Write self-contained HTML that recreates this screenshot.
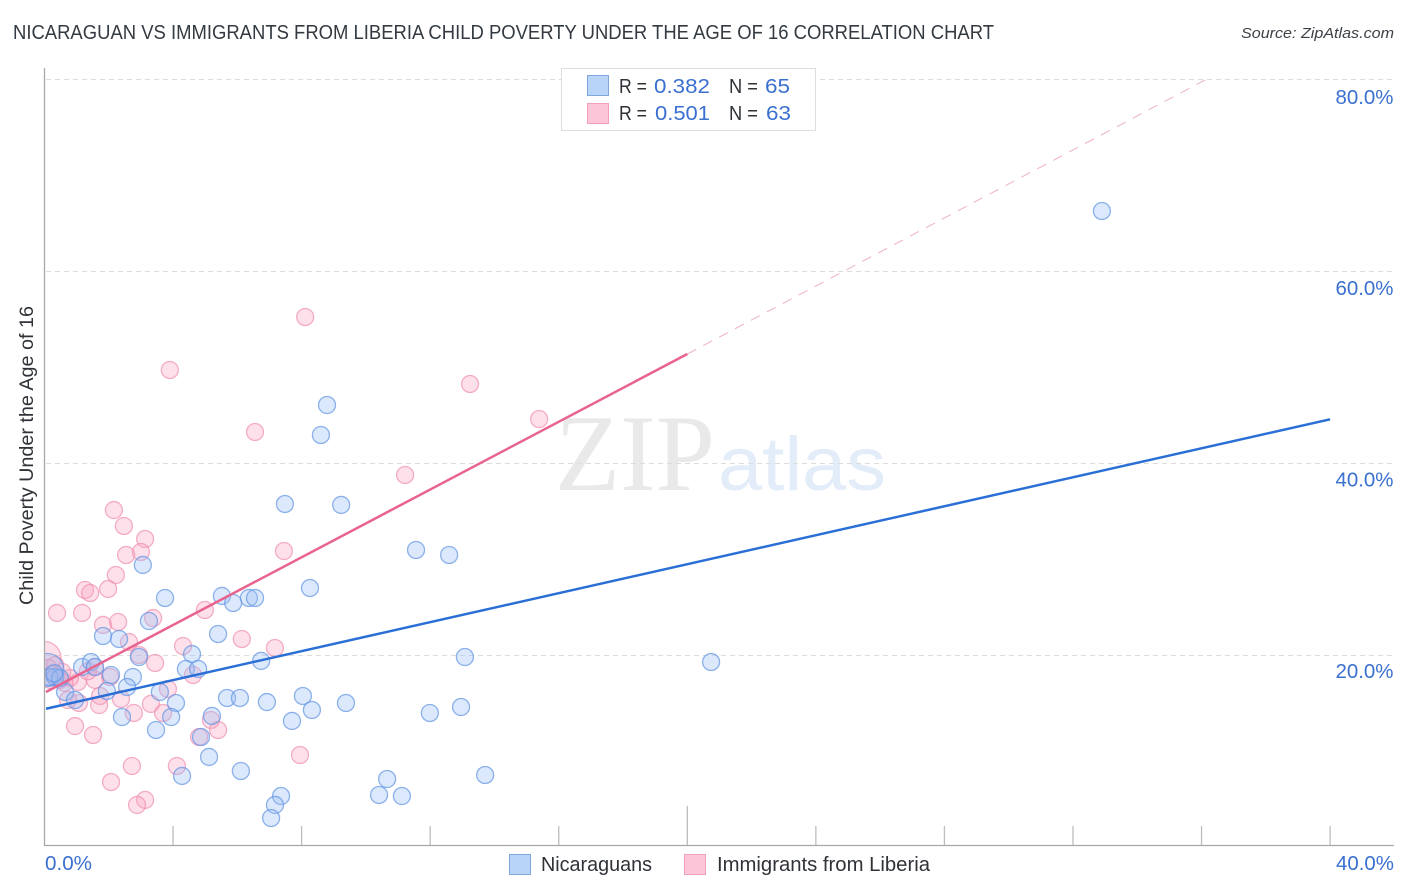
<!DOCTYPE html>
<html lang="en">
<head>
<meta charset="utf-8">
<title>Nicaraguan vs Immigrants from Liberia Child Poverty Correlation Chart</title>
<style>
html,body{margin:0;padding:0;background:#fff;}
svg{display:block;font-family:"Liberation Sans",sans-serif;}
</style>
</head>
<body>
<svg id="chart" width="1406" height="892" viewBox="0 0 1406 892" xmlns="http://www.w3.org/2000/svg">
  <rect width="1406" height="892" fill="#ffffff"/>
  <text x="13" y="39" font-size="20" fill="#333a42" textLength="981" lengthAdjust="spacingAndGlyphs">NICARAGUAN VS IMMIGRANTS FROM LIBERIA CHILD POVERTY UNDER THE AGE OF 16 CORRELATION CHART</text>
  <text x="1394" y="38" font-size="15" font-style="italic" fill="#3c4248" text-anchor="end" textLength="153" lengthAdjust="spacingAndGlyphs">Source: ZipAtlas.com</text>

  <g>
    <text x="555" y="490" font-family="'Liberation Serif',serif" font-size="109" fill="#e9e9ea" textLength="160" lengthAdjust="spacingAndGlyphs">ZIP</text>
    <text x="718" y="490" font-size="76" fill="#e3ecf9" textLength="168" lengthAdjust="spacingAndGlyphs">atlas</text>
  </g>

  <g id="grid"></g>
  <svg x="45" y="60" width="1350" height="786" viewBox="45 60 1350 786" overflow="hidden">
    <g id="marks-pink"></g>
    <g id="marks-blue"></g>
  </svg>
  <rect x="10" y="625" width="35" height="80" fill="#ffffff"/>
  <g id="axes"></g>
  <g id="trends"></g>

  <g>
    <rect x="561.5" y="68.5" width="254" height="62" fill="#ffffff" stroke="#dddddd"/>
    <rect x="587.5" y="75.5" width="21" height="20" fill="#b8d4f8" stroke="#7fa8dc"/>
    <rect x="587.5" y="103.5" width="21" height="20" fill="#fdc5d8" stroke="#f0a0bb"/>
    <g font-size="20">
      <text x="619" y="93" fill="#2f3338" textLength="28" lengthAdjust="spacingAndGlyphs">R =</text>
      <text x="654" y="93" fill="#3a70d0" textLength="56" lengthAdjust="spacingAndGlyphs">0.382</text>
      <text x="729" y="93" fill="#2f3338" textLength="29" lengthAdjust="spacingAndGlyphs">N =</text>
      <text x="765" y="93" fill="#3a70d0" textLength="25" lengthAdjust="spacingAndGlyphs">65</text>
      <text x="619" y="120" fill="#2f3338" textLength="28" lengthAdjust="spacingAndGlyphs">R =</text>
      <text x="655" y="120" fill="#3a70d0" textLength="55" lengthAdjust="spacingAndGlyphs">0.501</text>
      <text x="729" y="120" fill="#2f3338" textLength="29" lengthAdjust="spacingAndGlyphs">N =</text>
      <text x="766" y="120" fill="#3a70d0" textLength="25" lengthAdjust="spacingAndGlyphs">63</text>
    </g>
  </g>

  <text transform="translate(33,605) rotate(-90)" font-size="19" fill="#2f3338" textLength="299" lengthAdjust="spacingAndGlyphs">Child Poverty Under the Age of 16</text>

  <g>
    <rect x="509.5" y="854.5" width="21" height="20" fill="#b8d4f8" stroke="#7fa8dc"/>
    <text x="541" y="871" font-size="20" fill="#2f3338" textLength="111" lengthAdjust="spacingAndGlyphs">Nicaraguans</text>
    <rect x="684.5" y="854.5" width="21" height="20" fill="#fdc5d8" stroke="#f0a0bb"/>
    <text x="717" y="871" font-size="20" fill="#2f3338" textLength="213" lengthAdjust="spacingAndGlyphs">Immigrants from Liberia</text>
  </g>
</svg>
<script>
const yTickValues = [20, 40, 60, 80];
const xTickValues = [4, 8, 12, 16, 20, 24, 28, 32, 36, 40];
const xEdgeLabels = [0, 40];

const blueX = [32.90,8.79,8.60,7.48,9.23,11.56,12.59,3.06,8.26,3.75,5.52,5.87,6.36,6.55,3.25,5.40,1.82,2.32,4.59,2.94,13.08,20.74,6.74,1.17,1.45,1.57,4.40,4.78,2.07,2.75,2.57,1.94,3.59,5.68,6.08,8.04,6.92,9.38,4.09,8.32,7.70,11.99,12.96,2.41,3.94,5.21,3.47,4.87,5.12,6.11,4.28,13.71,10.66,10.41,11.12,7.36,7.17,7.05,0.09,0.33,0.64,0.95,0.15,0.48,0.30];
const blueY = [66.25,46.04,42.92,35.73,35.63,30.94,30.42,29.38,26.98,25.94,26.15,25.42,25.94,25.94,23.54,22.19,21.98,21.67,20.10,19.79,19.79,19.27,19.38,18.75,19.27,18.75,18.54,18.54,17.92,17.71,16.67,16.25,16.15,15.52,15.52,15.73,15.10,15.00,15.00,14.27,13.13,13.96,14.58,13.54,13.54,13.65,12.19,11.46,9.38,7.92,7.40,7.50,7.08,5.42,5.31,5.31,4.38,3.02,18.44,17.71,16.15,15.31,17.71,17.60,18.10];

const pinkX = [8.11,3.90,13.24,15.39,6.55,11.22,2.16,2.47,3.13,3.00,2.54,7.45,2.22,1.26,1.42,1.98,0.39,1.17,1.82,2.29,3.38,4.99,2.63,2.94,3.44,4.31,6.14,7.17,4.62,1.04,1.57,1.57,2.04,3.84,1.73,2.38,1.70,3.31,3.69,2.78,1.07,0.73,0.95,1.51,5.18,5.40,4.81,7.95,4.12,2.72,2.07,3.13,2.88,0.00,0.12,0.33,0.17,0.48,0.79,0.55,0.25,0.62,1.35];
const pinkY = [55.21,49.69,48.23,44.58,43.23,38.75,35.10,33.44,32.08,30.73,30.42,30.83,28.33,26.77,26.46,26.88,24.38,24.38,23.13,23.44,23.85,24.69,21.35,20.00,19.17,20.94,21.67,20.73,17.92,17.19,17.40,18.75,17.71,16.46,15.73,15.42,14.79,14.90,13.96,13.96,15.00,15.31,12.60,11.67,13.23,12.19,11.46,9.58,8.44,8.44,6.77,4.90,4.38,19.69,18.65,18.96,17.40,17.40,17.60,18.23,18.00,17.10,18.30];

const blueTrendX = [0, 40];
const blueTrendY = [14.4, 44.55];
const pinkTrendX = [0, 20];
const pinkTrendY = [16.15, 51.35];
const pinkDashX = [20, 36.17];
const pinkDashY = [51.35, 80];

const NS = 'http://www.w3.org/2000/svg';
function xScale(v) { return 44.5 + v * 32.14; }
function yScale(v) { return 847 - v * 9.6; }
function yLabelScale(v) { return 678 - (v - 20) * 9.57; }
function pct(v) { return v.toFixed(1) + '%'; }
function make(tag, attrs, parent) {
  const el = document.createElementNS(NS, tag);
  for (const k in attrs) el.setAttribute(k, attrs[k]);
  parent.appendChild(el);
  return el;
}

const gridG = document.getElementById('grid');
const axesG = document.getElementById('axes');
const trendsG = document.getElementById('trends');

yTickValues.forEach(function (v) {
  const line = make('line', {x1: 46, x2: 1393, y1: yScale(v) + 0.5, y2: yScale(v) + 0.5, stroke: '#dcdcdc', 'stroke-width': 1, 'stroke-dasharray': '5 4'}, gridG);
  
  
  const label = make('text', {x: 1393.5, y: yLabelScale(v), 'font-size': 20, fill: '#3a70d0', 'text-anchor': 'end', textLength: 58, lengthAdjust: 'spacingAndGlyphs'}, axesG);
  label.textContent = pct(v);
  
  
});

const yAxis = make('line', {x1: 44.5, x2: 44.5, y1: 68, y2: 846, stroke: '#a8a8a8', 'stroke-width': 1.3}, axesG);


const xAxis = make('line', {x1: 44, x2: 1394, y1: 845.5, y2: 845.5, stroke: '#a8a8a8', 'stroke-width': 1.3}, axesG);



xTickValues.forEach(function (v) {
  const tick = make('line', {x1: xScale(v), x2: xScale(v), y1: v === 20 ? 806 : 826, y2: 845, stroke: '#bdbdbd', 'stroke-width': 1.3}, axesG);
  
  
});

xEdgeLabels.forEach(function (v, i) {
  const label = make('text', {x: i === 0 ? 45 : 1394, y: 870, 'font-size': 20, fill: '#3a70d0', 'text-anchor': i === 0 ? 'start' : 'end', textLength: i === 0 ? 47 : 58, lengthAdjust: 'spacingAndGlyphs'}, axesG);
  label.textContent = pct(v);
  
  
});

function drawPoints(xs, ys, parent, fill, stroke, name) {
  xs.forEach(function (x, i) {
    const c = make('circle', {cx: xScale(x), cy: yScale(ys[i]), r: x < 0.1 ? 16.5 : 8.5, fill: fill, 'fill-opacity': 0.35, stroke: stroke, 'stroke-opacity': 0.7, 'stroke-width': 1.3}, parent);
    
    
  });
}
drawPoints(pinkX, pinkY, document.getElementById('marks-pink'), '#f9a6c3', '#f08fb0', 'liberia-point');
drawPoints(blueX, blueY, document.getElementById('marks-blue'), '#9bbdf4', '#5f94e2', 'nicaraguan-point');

const pinkDash = make('line', {x1: xScale(pinkDashX[0]), y1: yScale(pinkDashY[0]), x2: xScale(pinkDashX[1]), y2: yScale(pinkDashY[1]), stroke: '#eeb0c4', 'stroke-width': 1, 'stroke-dasharray': '10 8'}, trendsG);


const pinkTrend = make('line', {x1: xScale(pinkTrendX[0]) + 1.5, y1: yScale(pinkTrendY[0]), x2: xScale(pinkTrendX[1]), y2: yScale(pinkTrendY[1]), stroke: '#e8648f', 'stroke-width': 2.5}, trendsG);


const blueTrend = make('line', {x1: xScale(blueTrendX[0]) + 1.5, y1: yScale(blueTrendY[0]), x2: xScale(blueTrendX[1]), y2: yScale(blueTrendY[1]), stroke: '#2a6fd6', 'stroke-width': 2.5}, trendsG);


</script>
</body>
</html>
